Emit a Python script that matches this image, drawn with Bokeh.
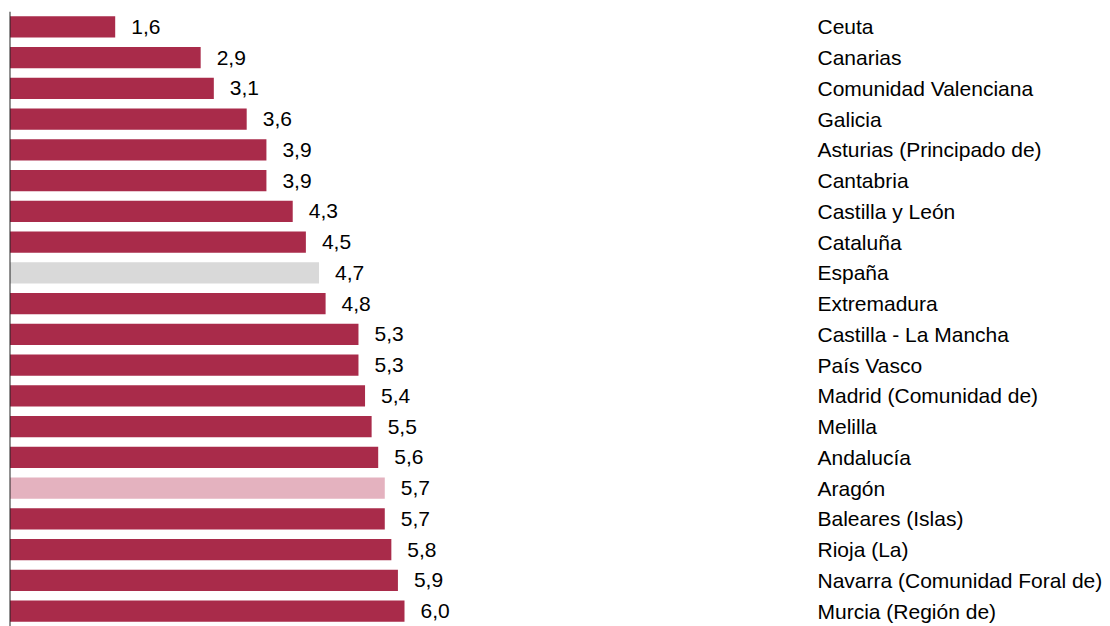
from bokeh.plotting import figure
from bokeh.models import ColumnDataSource, FactorRange, Range1d, Span
from bokeh.core.properties import value
from bokeh.embed import file_html
from bokeh.resources import INLINE

categories = ["Ceuta", "Canarias", "Comunidad Valenciana", "Galicia",
              "Asturias (Principado de)", "Cantabria", "Castilla y León",
              "Cataluña", "España", "Extremadura", "Castilla - La Mancha",
              "País Vasco", "Madrid (Comunidad de)", "Melilla", "Andalucía",
              "Aragón", "Baleares (Islas)", "Rioja (La)",
              "Navarra (Comunidad Foral de)", "Murcia (Región de)"]
values = [1.6, 2.9, 3.1, 3.6, 3.9, 3.9, 4.3, 4.5, 4.7, 4.8, 5.3, 5.3,
          5.4, 5.5, 5.6, 5.7, 5.7, 5.8, 5.9, 6.0]

MAIN = "#A92B4A"
GREY = "#D9D9D9"
PINK = "#E4B2BF"
colors = [GREY if c == "España" else PINK if c == "Aragón" else MAIN
          for c in categories]
labels = [f"{v:.1f}".replace(".", ",") for v in values]

W, H = 1110, 626
LEFT = 8
px_per_unit = 65.75
x_start = -1.5 / px_per_unit
x_end = x_start + (W - LEFT) / px_per_unit
label_x = (817 - 9.5) / px_per_unit

src = ColumnDataSource(dict(cat=categories, val=values, color=colors,
                            label=labels,
                            lx=[label_x] * len(categories)))

p = figure(width=W, height=H, output_backend="svg", toolbar_location=None,
           y_range=FactorRange(factors=list(reversed(categories)),
                               range_padding=0),
           x_range=Range1d(x_start, x_end),
           min_border_left=LEFT, min_border_right=0,
           min_border_top=11, min_border_bottom=0)
p.outline_line_color = None
p.background_fill_color = "white"
p.border_fill_color = "white"
p.xgrid.visible = False
p.ygrid.visible = False
p.xaxis.visible = False
p.yaxis.visible = False

p.hbar(y="cat", right="val", left=0, height=0.69, fill_color="color",
       line_color=None, source=src)

p.text(x="val", y="cat", text="label", source=src, x_offset=16,
       text_align="left", text_baseline="middle",
       text_font=value("Liberation Sans"), text_font_size="21px",
       text_color="#000000")

p.text(x="lx", y="cat", text="cat", source=src,
       text_align="left", text_baseline="middle",
       text_font=value("Liberation Sans"), text_font_size="21px",
       text_color="#000000")

p.add_layout(Span(location=0, dimension="height", line_color="#222222",
                  line_width=1))

open("out.html", "w").write(file_html(p, INLINE))
